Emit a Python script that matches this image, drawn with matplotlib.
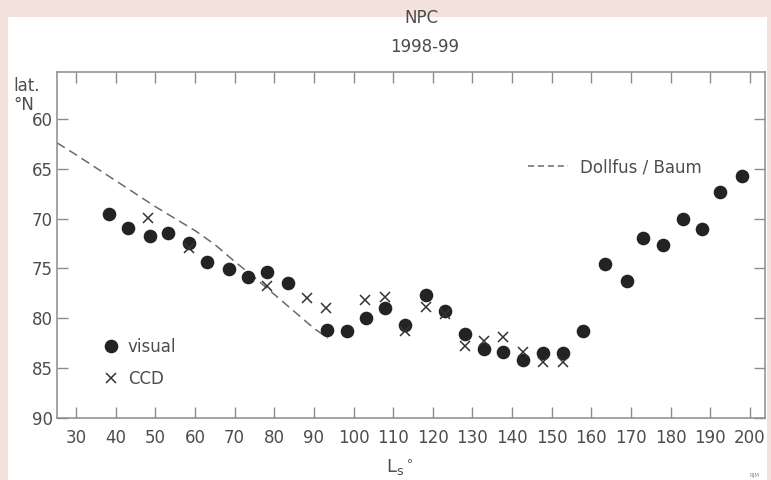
import matplotlib
matplotlib.use("Agg")
import matplotlib.pyplot as plt
from matplotlib.patches import Rectangle
from matplotlib.lines import Line2D

# ---- data ----
visual_ls = [38.3, 43.2, 48.6, 53.1, 58.4, 63.0, 68.5, 73.4, 78.3, 83.5, 93.4, 98.3,
             103.1, 108.0, 113.1, 118.3, 123.1, 128.2, 132.8, 137.7, 142.8, 147.9,
             152.9, 157.9, 163.4, 168.9, 172.9, 178.1, 183.0, 187.8, 192.4, 197.9]
visual_lat = [69.5, 70.9, 71.7, 71.4, 72.4, 74.4, 75.1, 75.9, 75.4, 76.5, 81.2, 81.3,
              80.0, 79.0, 80.7, 77.7, 79.3, 81.6, 83.1, 83.4, 84.2, 83.5,
              83.5, 81.3, 74.6, 76.3, 71.9, 72.6, 70.0, 71.0, 67.3, 65.7]

ccd_ls = [48.1, 58.4, 78.3, 88.2, 93.1, 102.9, 107.9, 113.0, 118.3, 123.1,
          128.2, 132.8, 137.7, 142.8, 147.9, 152.9]
ccd_lat = [69.9, 73.0, 76.8, 78.0, 79.0, 78.2, 77.9, 81.3, 78.9, 79.6,
           82.8, 82.3, 81.9, 83.4, 84.4, 84.4]

dollfus_ls = [25.2, 30, 35, 40, 45, 50, 55, 60, 65, 70, 75, 80, 85, 90, 93.5]
dollfus_lat = [62.4, 63.6, 64.9, 66.2, 67.5, 68.8, 70.0, 71.2, 72.6, 74.3, 75.9,
               77.6, 79.3, 81.0, 82.0]

x_ticks = list(range(30, 201, 10))
y_ticks = [60, 65, 70, 75, 80, 85, 90]

title_lines = ["NPC", "1998-99"]

# ---- style ----
PINK = "#f3e1db"
TXT = "#4d4d4d"
SPINE = "#8c8c8c"
MARK = "#232323"

plt.rcParams['font.family'] = ['DejaVu Sans']
plt.rcParams['mathtext.fontset'] = 'dejavusans'

fig = plt.figure(figsize=(7.71, 4.80), dpi=100, facecolor=PINK)
fig.patches.append(Rectangle((8 / 771, 0), 759 / 771, (480 - 17) / 480,
                             transform=fig.transFigure, facecolor="white",
                             edgecolor="none", zorder=-10))

ax = fig.add_axes([57 / 771, (480 - 418) / 480, (765 - 57) / 771, (418 - 72) / 480])
ax.set_facecolor("white")

ax.plot(dollfus_ls, dollfus_lat, color="#6a6a6a", lw=1.1, dashes=(6, 3.5),
        label="Dollfus / Baum")
ax.plot(visual_ls, visual_lat, 'o', ms=8.8, color=MARK, mec=MARK, label="visual",
        zorder=3)
ax.plot(ccd_ls, ccd_lat, 'x', ms=6.6, mew=1.1, color="#333333", label="CCD", zorder=4)

ax.set_xlim(25.2, 203.8)
ax.set_ylim(90, 55.3)
ax.set_xticks(x_ticks)
ax.set_yticks(y_ticks)

for s in ax.spines.values():
    s.set_color(SPINE)
    s.set_linewidth(1.1)

ax.tick_params(axis='both', direction='in', length=8, width=1.0, color=SPINE,
               labelcolor=TXT, labelsize=12)
ax.tick_params(axis='x', top=True, pad=8)
ax.tick_params(axis='y', right=True, pad=3)

# legends
h_vis = Line2D([], [], marker='o', ls='none', ms=8.8, color=MARK)
h_ccd = Line2D([], [], marker='x', ls='none', ms=6.6, mew=1.1, color="#333333")
leg1 = ax.legend([h_vis, h_ccd], ["visual", "CCD"], loc='upper left',
                 bbox_to_anchor=((103 - 57) / 708, (418 - 338) / 346),
                 frameon=False, fontsize=12, handlelength=1.0, handletextpad=0.5,
                 labelspacing=0.85, borderpad=0, borderaxespad=0, labelcolor=TXT)
ax.add_artist(leg1)
h_dol = Line2D([], [], color="#6a6a6a", lw=1.1, dashes=(4, 2.5))
ax.legend([h_dol], ["Dollfus / Baum"], loc='upper left',
          bbox_to_anchor=((528 - 57) / 708, (418 - 158) / 346),
          frameon=False, fontsize=12, handlelength=2.4, handletextpad=0.7,
          borderpad=0, borderaxespad=0, labelcolor=TXT)

# titles & labels
fig.text(421 / 771, 1 - 18 / 480, title_lines[0], ha='center', va='center',
         fontsize=12, color=TXT)
fig.text(425 / 771, 1 - 47 / 480, title_lines[1], ha='center', va='center',
         fontsize=12, color=TXT)
fig.text(13 / 771, 1 - 86 / 480, "lat.", ha='left', va='center', fontsize=12, color=TXT)
fig.text(13 / 771, 1 - 105 / 480, "°N", ha='left', va='center', fontsize=12, color=TXT)
fig.text(400 / 771, 1 - 468 / 480, r"L$_\mathregular{s}$$^\circ$", ha='center',
         va='center', fontsize=13, color=TXT)
fig.text(755 / 771, 1 - 476 / 480, "RJM", ha='center', va='center', fontsize=4,
         color="#888888")

fig.savefig("out.png", dpi=100, facecolor=PINK)
